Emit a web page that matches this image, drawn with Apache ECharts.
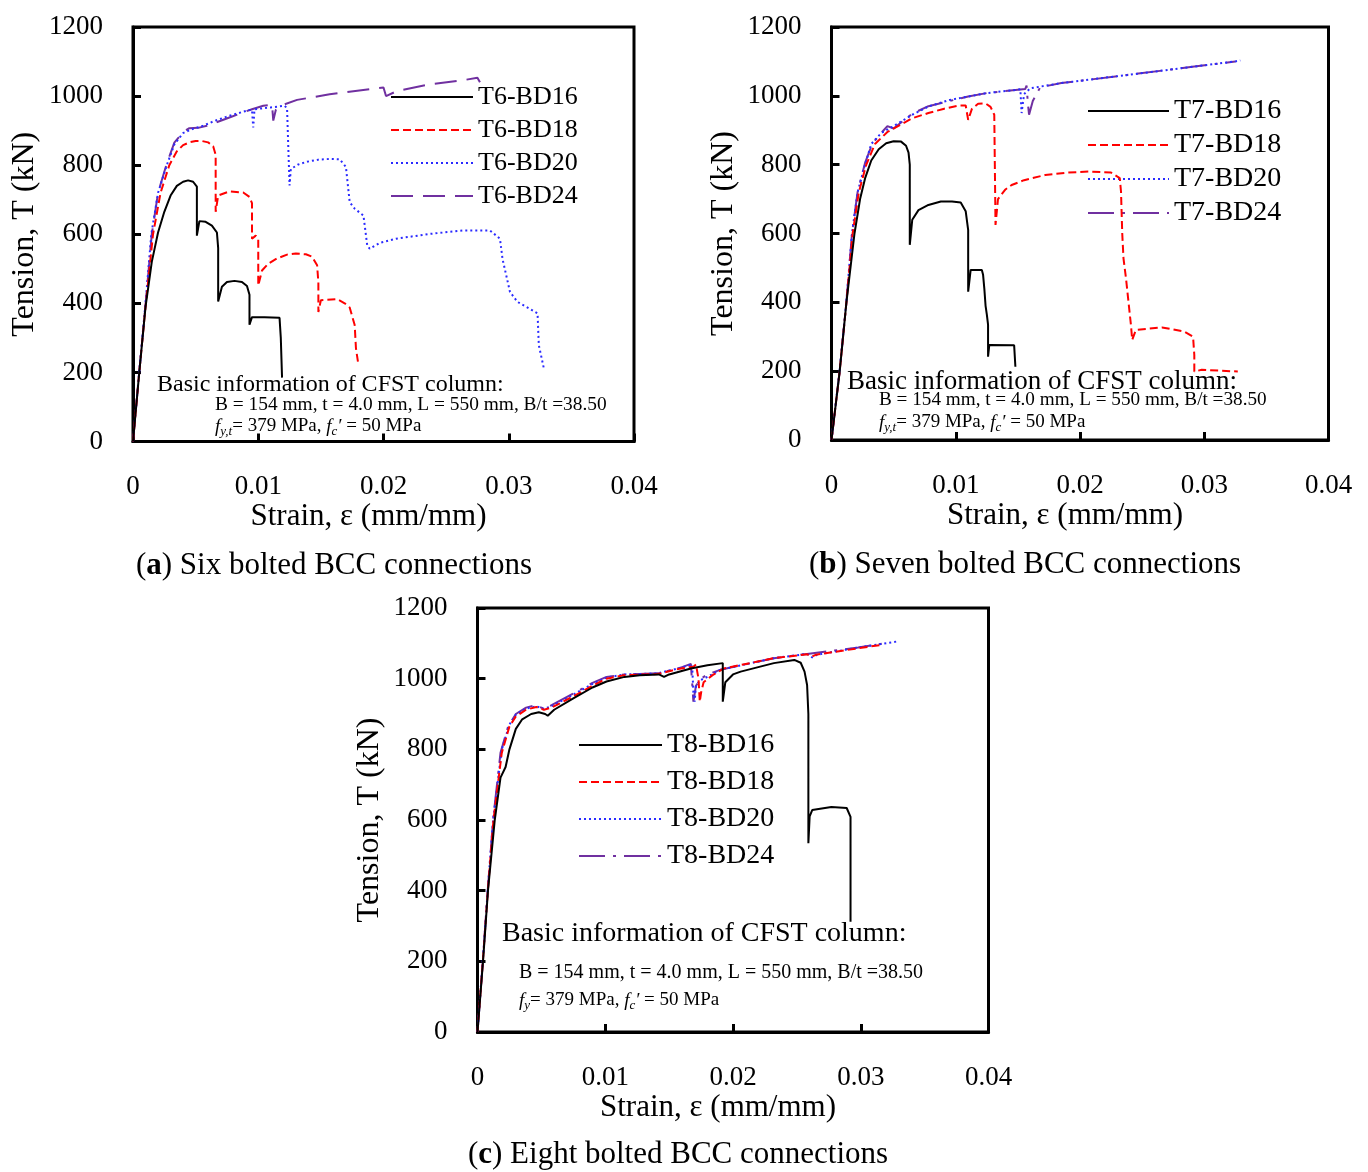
<!DOCTYPE html>
<html>
<head>
<meta charset="utf-8">
<script src="https://cdn.jsdelivr.net/npm/echarts@6/dist/echarts.min.js"></script>
<style>
  html, body { margin: 0; padding: 0; background: #fff; }
  #main { width: 1368px; height: 1172px; }
</style>
</head>
<body>
<div id="main"></div>
<script>
// strain (mm/mm), tension (kN)
var a16 = [[0,0],[0.0005,200],[0.001,390],[0.0015,520],[0.002,605],[0.0025,665],[0.003,712],[0.0035,740],[0.004,752],[0.0044,756],[0.0048,752],[0.0051,738],[0.0051,596],[0.0053,638],[0.0058,636],[0.0063,625],[0.0067,605],[0.0068,560],[0.0068,405],[0.0071,448],[0.0075,462],[0.0081,465],[0.0087,462],[0.0091,450],[0.0093,425],[0.0093,338],[0.0095,360],[0.0105,360],[0.0117,358],[0.0118,300],[0.0119,185]];
var a18 = [[0,0],[0.0005,200],[0.001,390],[0.0016,600],[0.0022,720],[0.0029,800],[0.0035,840],[0.004,858],[0.0045,866],[0.005,870],[0.0055,870],[0.006,866],[0.0064,855],[0.0066,830],[0.0066,665],[0.0068,712],[0.0077,724],[0.0088,721],[0.0093,708],[0.0095,690],[0.0095,587],[0.0098,596],[0.0100,585],[0.0100,452],[0.0103,495],[0.0108,515],[0.0115,530],[0.0123,541],[0.013,544],[0.0138,542],[0.0143,535],[0.0147,510],[0.0148,460],[0.0148,375],[0.0150,409],[0.0163,412],[0.0169,400],[0.0173,388],[0.0177,337],[0.0178,270],[0.018,221]];
var a20 = [[0,0],[0.0005,205],[0.001,400],[0.00146,600],[0.002,720],[0.0027,800],[0.0033,860],[0.004,893],[0.0047,904],[0.0056,914],[0.0065,928],[0.0077,943],[0.0093,960],[0.0095,960],[0.0096,909],[0.0097,962],[0.011,967],[0.0121,972],[0.0123,965],[0.0124,850],[0.0125,741],[0.0126,789],[0.0132,802],[0.0139,810],[0.0148,816],[0.0157,818],[0.0165,817],[0.017,795],[0.0173,693],[0.0177,674],[0.0184,654],[0.0187,568],[0.0189,558],[0.0197,575],[0.021,587],[0.0237,601],[0.0264,611],[0.0285,611],[0.0293,587],[0.0295,529],[0.0301,433],[0.0307,404],[0.0323,371],[0.0324,279],[0.0328,212]];
var a24 = [[0,0],[0.0005,200],[0.001,395],[0.0015,600],[0.002,720],[0.0027,805],[0.0033,865],[0.004,896],[0.0045,907],[0.0052,908],[0.0059,914],[0.0077,938],[0.0095,962],[0.0104,972],[0.0111,975],[0.0112,929],[0.0114,960],[0.0118,972],[0.0131,989],[0.0157,1005],[0.0200,1025],[0.0202,1000],[0.0211,1015],[0.0237,1034],[0.0262,1045],[0.0275,1053],[0.0277,1040]];

var b16 = [[0,0],[0.00066,200],[0.0012,400],[0.00185,600],[0.0023,700],[0.0027,760],[0.0032,812],[0.0038,845],[0.0044,862],[0.005,868],[0.0056,867],[0.006,855],[0.0062,835],[0.0063,800],[0.0063,567],[0.0065,640],[0.0070,668],[0.0078,683],[0.0088,693],[0.0097,693],[0.0104,690],[0.0108,665],[0.011,610],[0.011,431],[0.0112,494],[0.0121,494],[0.0122,480],[0.0123,440],[0.0124,390],[0.0125,365],[0.0126,335],[0.0126,242],[0.0127,276],[0.0147,275],[0.0148,213]];
var b18 = [[0,0],[0.00066,200],[0.0012,400],[0.0017,600],[0.0022,720],[0.0028,800],[0.0035,860],[0.0045,895],[0.0055,915],[0.0065,935],[0.0078,950],[0.009,962],[0.0103,972],[0.0108,972],[0.011,930],[0.0113,962],[0.0118,977],[0.0124,978],[0.0128,968],[0.0131,945],[0.0132,625],[0.0134,700],[0.0140,728],[0.0145,741],[0.0155,755],[0.0172,770],[0.019,777],[0.0207,780],[0.0225,777],[0.0232,761],[0.0233,722],[0.0234,600],[0.0235,528],[0.0237,470],[0.0239,402],[0.0241,334],[0.0242,291],[0.0245,320],[0.0266,327],[0.0284,315],[0.0291,300],[0.0292,247],[0.0292,199],[0.0298,204],[0.0327,199]];
var b20 = [[0,0],[0.00066,205],[0.0012,405],[0.00165,600],[0.0021,720],[0.0027,800],[0.0032,860],[0.004,892],[0.005,912],[0.0065,945],[0.0078,969],[0.0095,988],[0.011,998],[0.0125,1008],[0.0148,1017],[0.0152,1019],[0.0153,950],[0.0155,1005],[0.0160,1022],[0.0185,1037],[0.0239,1061],[0.0292,1085],[0.0325,1100],[0.0329,1103]];
var b24 = [[0,0],[0.00066,200],[0.0012,400],[0.00165,600],[0.0021,720],[0.0027,805],[0.0033,862],[0.0042,900],[0.0045,912],[0.005,905],[0.0065,948],[0.0078,970],[0.0095,985],[0.011,998],[0.0125,1008],[0.0148,1017],[0.0156,1020],[0.0157,1030],[0.0158,980],[0.0159,945],[0.0162,985],[0.0168,1025],[0.0185,1037],[0.0239,1061],[0.0292,1085],[0.0325,1100]];

var c16 = [[0,0],[0.00043,200],[0.00082,400],[0.00135,600],[0.0018,720],[0.0022,750],[0.0022,745],[0.0025,800],[0.003,858],[0.0035,885],[0.0042,900],[0.0048,905],[0.0053,900],[0.0055,895],[0.006,912],[0.0075,944],[0.009,975],[0.0101,992],[0.0115,1005],[0.0127,1010],[0.0142,1012],[0.0146,1005],[0.0150,1012],[0.0167,1029],[0.0180,1038],[0.0192,1044],[0.0192,935],[0.0194,990],[0.0200,1012],[0.0206,1020],[0.0232,1044],[0.0248,1053],[0.0253,1045],[0.0256,1020],[0.0258,982],[0.0259,900],[0.0259,534],[0.0260,610],[0.0262,628],[0.0277,637],[0.0289,634],[0.0292,609],[0.0292,312]];
var c18 = [[0,0],[0.00043,205],[0.00082,405],[0.00125,600],[0.0019,790],[0.0025,865],[0.003,893],[0.0038,912],[0.0046,920],[0.0052,912],[0.0058,918],[0.0075,950],[0.009,980],[0.0101,1000],[0.0115,1010],[0.0141,1013],[0.0158,1028],[0.0169,1034],[0.0171,1040],[0.0173,1000],[0.0174,935],[0.0175,960],[0.0177,990],[0.0184,1010],[0.0193,1029],[0.0232,1058],[0.0258,1069],[0.0262,1063],[0.0265,1068],[0.0298,1086],[0.0315,1095]];
var c20 = [[0,0],[0.00043,210],[0.00082,410],[0.00122,600],[0.0019,800],[0.0025,870],[0.003,898],[0.0038,915],[0.0046,922],[0.0052,915],[0.0058,922],[0.0075,955],[0.009,985],[0.0101,1003],[0.0115,1012],[0.0141,1015],[0.0158,1030],[0.0168,1040],[0.0169,960],[0.0170,935],[0.0171,980],[0.0174,995],[0.0180,1005],[0.019,1025],[0.0232,1058],[0.0258,1070],[0.0262,1060],[0.0266,1068],[0.0298,1088],[0.0328,1105]];
var c24 = [[0,0],[0.00043,205],[0.00082,410],[0.00122,600],[0.0018,790],[0.0024,865],[0.003,900],[0.0038,918],[0.0045,925],[0.0052,915],[0.0058,925],[0.0075,958],[0.009,988],[0.0101,1005],[0.0115,1012],[0.0141,1015],[0.0158,1030],[0.0167,1042],[0.0168,1040],[0.0169,935],[0.0171,980],[0.0175,1000],[0.018,1012],[0.019,1025],[0.0232,1058],[0.0258,1070],[0.0298,1088],[0.0319,1100]];

var namesA = ['T6-BD16', 'T6-BD18', 'T6-BD20', 'T6-BD24'];
var namesB = ['T7-BD16', 'T7-BD18', 'T7-BD20', 'T7-BD24'];
var namesC = ['T8-BD16', 'T8-BD18', 'T8-BD20', 'T8-BD24'];
var captions = ['Six bolted BCC connections', 'Seven bolted BCC connections', 'Eight bolted BCC connections'];

var FONT = 'Liberation Serif';
var colors = ['#000000', '#ff0000', '#2a2aff', '#7030a0'];
var dashA = ['solid', [8, 4], [2, 3], [22, 10]];
var dashBC = ['solid', [8, 4], [2, 3], [26, 8, 3, 8]];

var grids = [
    {left: 133, top: 27, width: 501, height: 414.5},
    {left: 831.5, top: 27, width: 497, height: 413},
    {left: 477.5, top: 608, width: 511, height: 424}
];

function xAx(i) {
    return {
        gridIndex: i, type: 'value', min: 0, max: 0.04, interval: 0.01,
        name: 'Strain, ε (mm/mm)', nameLocation: 'middle', nameGap: 58,
        nameTextStyle: {fontFamily: FONT, fontSize: 31, color: '#000', padding: [0, 30, 0, 0]},
        axisLine: {show: true, lineStyle: {color: '#000', width: 3}},
        axisTick: {show: true, inside: true, length: 8, lineStyle: {color: '#000', width: 3}},
        axisLabel: {fontFamily: FONT, fontSize: 27, color: '#000', margin: 32,
            formatter: function (v) { return v === 0 ? '0' : v.toFixed(2); }},
        splitLine: {show: false}
    };
}
function yAx(i) {
    return {
        gridIndex: i, type: 'value', min: 0, max: 1200, interval: 200,
        name: 'Tension, T (kN)', nameLocation: 'middle', nameGap: 92,
        nameTextStyle: {fontFamily: FONT, fontSize: 32, color: '#000'},
        axisLine: {show: true, lineStyle: {color: '#000', width: 3}},
        axisTick: {show: true, inside: true, length: 8, lineStyle: {color: '#000', width: 3}},
        axisLabel: {fontFamily: FONT, fontSize: 27, color: '#000', margin: 30,
            formatter: function (v) { return String(v); }},
        splitLine: {show: false}
    };
}

function mk(name, data, idx, k, dash) {
    return {
        name: name, type: 'line', xAxisIndex: idx, yAxisIndex: idx,
        data: data, showSymbol: false, symbol: 'none', animation: false,
        z: k === 0 ? 5 : 4 - k + 1,
        lineStyle: {color: colors[k], width: 2, type: dash[k]},
        itemStyle: {color: colors[k]}
    };
}

var series = [];
[a16, a18, a20, a24].forEach(function (d, k) { series.push(mk(namesA[k], d, 0, k, dashA)); });
[b16, b18, b20, b24].forEach(function (d, k) { series.push(mk(namesB[k], d, 1, k, dashBC)); });
[c16, c18, c20, c24].forEach(function (d, k) { series.push(mk(namesC[k], d, 2, k, dashBC)); });

function lg(names, left, top, w, fs, gap) {
    return {
        data: names, orient: 'vertical', left: left, top: top,
        itemWidth: w, itemHeight: 14, itemGap: gap, selectedMode: false,
        itemStyle: {color: 'transparent', borderWidth: 0, opacity: 0},
        textStyle: {fontFamily: FONT, fontSize: fs, lineHeight: fs, color: '#000'}
    };
}

var rich = {
    n: {fontFamily: FONT, fontSize: 19, lineHeight: 24},
    i: {fontFamily: FONT, fontSize: 19, fontStyle: 'italic', lineHeight: 24},
    s: {fontFamily: FONT, fontSize: 13, fontStyle: 'italic', lineHeight: 12, verticalAlign: 'bottom'}
};
function txt(x, y, text, fs) {
    return {type: 'text', left: x, top: y - fs / 2 + 1,
        style: {text: text, font: fs + 'px "' + FONT + '"', fill: '#000'}};
}
function info(x, y, sub) {
    return {type: 'text', left: x, top: y - 9,
        style: {text: '{i|f}{s|' + sub + '}{n|= 379 MPa, }{i|f}{s|c}{i|′}{n| = 50 MPa}', rich: rich, fill: '#000'}};
}
function cap(cx, y, letter, text) {
    return {type: 'text', x: cx, y: y,
        style: {text: '{n|(}{b|' + letter + '}{n|) ' + text + '}', align: 'center', verticalAlign: 'middle',
            rich: {n: {fontFamily: FONT, fontSize: 31}, b: {fontFamily: FONT, fontSize: 31, fontWeight: 'bold'}},
            fill: '#000'}};
}

var line2 = 'B = 154 mm, t = 4.0 mm, L = 550 mm, B/t =38.50';

var option = {
    backgroundColor: '#fff',
    textStyle: {fontFamily: FONT},
    animation: false,
    grid: grids.map(function (g) {
        return {left: g.left, top: g.top, width: g.width, height: g.height,
            show: true, borderColor: '#000', borderWidth: 3, backgroundColor: 'transparent'};
    }),
    xAxis: [xAx(0), xAx(1), xAx(2)],
    yAxis: [yAx(0), yAx(1), yAx(2)],
    legend: [
        lg(namesA, 385, 79, 82, 26, 7),
        lg(namesB, 1082, 92, 81, 28, 6),
        lg(namesC, 573, 726, 83, 28, 9)
    ],
    series: series,
    graphic: [
        txt(157, 384, 'Basic information of CFST column:', 24),
        txt(215, 404, line2, 19.4),
        info(215, 426, 'y,t'),
        txt(847, 381, 'Basic information of CFST column:', 27),
        txt(879, 399, line2, 19.2),
        info(879, 422, 'y,t'),
        txt(502, 933, 'Basic information of CFST column:', 28),
        txt(519, 972, line2, 20),
        info(519, 1000, 'y'),
        cap(334, 566, 'a', captions[0]),
        cap(1025, 565, 'b', captions[1]),
        cap(678, 1155, 'c', captions[2])
    ]
};

var myChart = echarts.init(document.getElementById('main'));
myChart.setOption(option);
</script>
</body>
</html>
